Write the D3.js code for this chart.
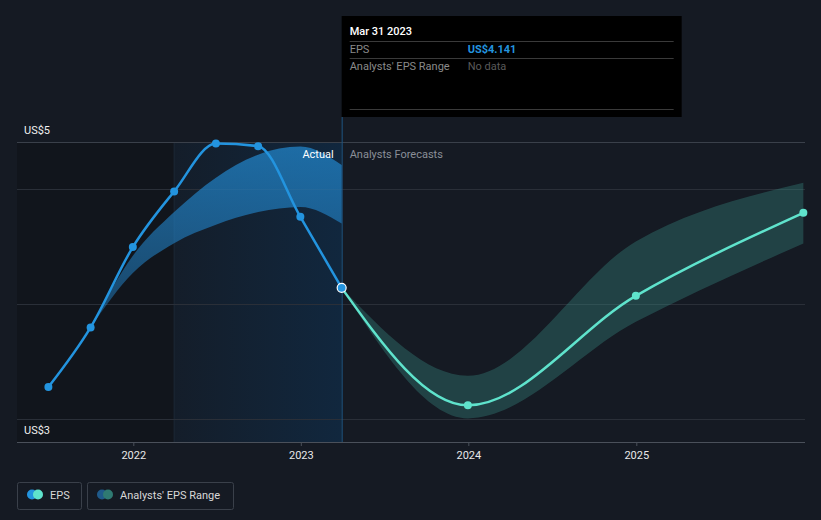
<!DOCTYPE html>
<html><head><meta charset="utf-8">
<script src="https://cdn.jsdelivr.net/npm/d3@7"></script>
<style>
html,body{margin:0;padding:0;background:#151a23;}
svg{display:block;font-family:Roboto,"Noto Sans",sans-serif;}
</style></head><body>
<svg id="c" width="821" height="520"></svg>
<script>
// ---- data ----
const epsDates = ["2021-06-30","2021-09-30","2021-12-31","2022-03-31","2022-06-30","2022-09-30","2022-12-31","2023-03-31"];
const epsValues = [3.278, 3.797, 4.496, 4.98, 5.397, 5.374, 4.759, 4.141];
const fcDates = ["2023-03-31","2023-12-31","2024-12-31","2025-12-31"];
const fcValues = [4.141, 3.119, 4.072, 4.794];
const fcLow = [4.141, 3.005, 3.846, 4.527];
const fcHigh = [4.141, 3.376, 4.545, 5.055];
const pastDates = ["2021-09-30","2021-12-31","2022-03-31","2022-06-30","2022-09-30","2022-12-31","2023-03-31"];
const pastLow = [3.797, 4.27, 4.53, 4.69, 4.80, 4.845, 4.70];
const pastHigh = [3.797, 4.42, 4.80, 5.10, 5.30, 5.37, 5.21];
const xTickLabels = ["2022","2023","2024","2025"];
const yLabels = ["US$5","US$3"];
const legendItems = ["EPS","Analysts' EPS Range"];

const parse = d3.timeParse("%Y-%m-%d");
const svg = d3.select("#c");
const x = d3.scaleTime().domain([parse("2022-01-01"), parse("2025-01-01")]).range([133.3, 636.3]);
const y = d3.scaleLinear().domain([2.8, 5.41]).range([442, 142]);
const L = 17, R = 805, T = 142, B = 442;
const cut = parse("2023-03-31"), pastStart = parse("2022-03-31");

const defs = svg.append("defs");
const hg = defs.append("linearGradient").attr("id","hl").attr("x1",0).attr("x2",1).attr("y1",0).attr("y2",0);
hg.append("stop").attr("offset",0).attr("stop-color","#0e3050").attr("stop-opacity",0.15);
hg.append("stop").attr("offset",1).attr("stop-color","#0e3050").attr("stop-opacity",0.6);
const bg = defs.append("linearGradient").attr("id","pb").attr("x1",0).attr("x2",0).attr("y1",0).attr("y2",1);
bg.append("stop").attr("offset",0).attr("stop-color","#2184c9").attr("stop-opacity",0.75);
bg.append("stop").attr("offset",1).attr("stop-color","#2380c4").attr("stop-opacity",0.45);

// background regions
svg.append("rect").attr("x",L).attr("y",T).attr("width",x(pastStart)-L).attr("height",B-T).attr("fill","#11151c");
svg.append("rect").attr("x",x(pastStart)).attr("y",T).attr("width",x(cut)-x(pastStart)).attr("height",B-T).attr("fill","url(#hl)");
svg.append("line").attr("x1",x(pastStart)).attr("x2",x(pastStart)).attr("y1",T).attr("y2",B).attr("stroke","#1c2836").attr("stroke-width",1);

// grid
[y.domain()[1], 5, 4, 3].forEach(v=>{
  svg.append("line").attr("x1",L).attr("x2",R).attr("y1",Math.round(y(v))+0.5).attr("y2",Math.round(y(v))+0.5)
    .attr("stroke", v===y.domain()[1] ? "#3a404a" : "#2a2f38").attr("stroke-width",1);
});

// cut line
svg.append("line").attr("x1",x(cut)+0.5).attr("x2",x(cut)+0.5).attr("y1",117).attr("y2",B).attr("stroke","#1e5682").attr("stroke-width",1);

// x axis
const xAxis = d3.axisBottom(x).tickValues(xTickLabels.map(s=>parse(s+"-01-01"))).tickFormat((d,i)=>xTickLabels[i]).tickSize(4).tickSizeOuter(0);
const ga = svg.append("g").attr("transform",`translate(0,${B})`).call(xAxis);
ga.select(".domain").attr("d",`M${L},0.5H${R}`).attr("stroke","#4a505a");
ga.selectAll(".tick line").attr("stroke","#4a505a");
ga.selectAll(".tick text").attr("fill","#e8e8e8").attr("font-size",11).attr("dy","0.9em").attr("font-family","Roboto,sans-serif");

// y labels
svg.append("text").attr("x",24).attr("y",134).attr("fill","#f0f0f0").attr("font-size",11).text(yLabels[0]);
svg.append("text").attr("x",24).attr("y",434).attr("fill","#f0f0f0").attr("font-size",11).text(yLabels[1]);

// past band
const pastData = pastDates.map((d,i)=>({d:parse(d),lo:pastLow[i],hi:pastHigh[i]}));
svg.append("path").datum(pastData).attr("fill","url(#pb)")
  .attr("d", d3.area().x(d=>x(d.d)).y0(d=>y(d.lo)).y1(d=>y(d.hi)).curve(d3.curveMonotoneX));

// forecast band
const fcData = fcDates.map((d,i)=>({d:parse(d),v:fcValues[i],lo:fcLow[i],hi:fcHigh[i]}));
svg.append("path").datum(fcData).attr("fill","#3a8f86").attr("fill-opacity",0.35)
  .attr("d", d3.area().x(d=>x(d.d)).y0(d=>y(d.lo)).y1(d=>y(d.hi)).curve(d3.curveMonotoneX));

// forecast line
svg.append("path").datum(fcData).attr("fill","none").attr("stroke","#5fe3cc").attr("stroke-width",2.5)
  .attr("d", d3.line().x(d=>x(d.d)).y(d=>y(d.v)).curve(d3.curveMonotoneX));
svg.selectAll(".fcdot").data(fcData.slice(1)).enter().append("circle")
  .attr("cx",d=>x(d.d)).attr("cy",d=>y(d.v)).attr("r",4).attr("fill","#5fe3cc");

// eps line
const epsData = epsDates.map((d,i)=>({d:parse(d),v:epsValues[i]}));
svg.append("path").datum(epsData).attr("fill","none").attr("stroke","#2394df").attr("stroke-width",2.5)
  .attr("d", d3.line().x(d=>x(d.d)).y(d=>y(d.v)).curve(d3.curveMonotoneX));
svg.selectAll(".epsdot").data(epsData.slice(0,-1)).enter().append("circle")
  .attr("cx",d=>x(d.d)).attr("cy",d=>y(d.v)).attr("r",4).attr("fill","#2394df");
const last = epsData[epsData.length-1];
svg.append("circle").attr("cx",x(last.d)).attr("cy",y(last.v)).attr("r",4.5).attr("fill","#2394df").attr("stroke","#ffffff").attr("stroke-width",1.2);

// Actual / Forecast labels
svg.append("text").attr("x",x(cut)-8).attr("y",158).attr("text-anchor","end").attr("fill","#ffffff").attr("font-size",11).text("Actual");
svg.append("text").attr("x",x(cut)+8).attr("y",158).attr("fill","#8a8f98").attr("font-size",11).text("Analysts Forecasts");

// tooltip
const tx = x(cut);
svg.append("rect").attr("x",tx).attr("y",16).attr("width",340).attr("height",101).attr("fill","#000000");
svg.append("text").attr("x",tx+8).attr("y",35).attr("fill","#ffffff").attr("font-size",11).attr("font-weight",500).text("Mar 31 2023");
[41,58,109].forEach(yy=>svg.append("line").attr("x1",tx+8).attr("x2",tx+332).attr("y1",yy+0.5).attr("y2",yy+0.5).attr("stroke","#3a3a3a"));
svg.append("text").attr("x",tx+8).attr("y",53).attr("fill","#8a8a8a").attr("font-size",11).text("EPS");
svg.append("text").attr("x",tx+126).attr("y",53).attr("fill","#2394df").attr("font-size",11).attr("font-weight",700).text("US$" + last.v.toFixed(3));
svg.append("text").attr("x",tx+8).attr("y",70).attr("fill","#8a8a8a").attr("font-size",11).text("Analysts' EPS Range");
svg.append("text").attr("x",tx+126).attr("y",70).attr("fill","#5a5a5a").attr("font-size",11).text("No data");

// legend
const lg = svg.append("g");
lg.append("rect").attr("x",17.5).attr("y",482.5).attr("width",64).attr("height",27).attr("rx",2).attr("fill","none").attr("stroke","#3a404a");
lg.append("circle").attr("cx",32).attr("cy",494.5).attr("r",5).attr("fill","#2394df");
lg.append("circle").attr("cx",38).attr("cy",494.5).attr("r",5).attr("fill","#5fe3cc");
lg.append("text").attr("x",50).attr("y",498.5).attr("fill","#d8d8d8").attr("font-size",11).text(legendItems[0]);
lg.append("rect").attr("x",87.5).attr("y",482.5).attr("width",146).attr("height",27).attr("rx",2).attr("fill","none").attr("stroke","#3a404a");
lg.append("circle").attr("cx",102).attr("cy",494.5).attr("r",5).attr("fill","#1f5a8a");
lg.append("circle").attr("cx",108).attr("cy",494.5).attr("r",5).attr("fill","#2f7a72");
lg.append("text").attr("x",120).attr("y",498.5).attr("fill","#d8d8d8").attr("font-size",11).text(legendItems[1]);
</script></body></html>
